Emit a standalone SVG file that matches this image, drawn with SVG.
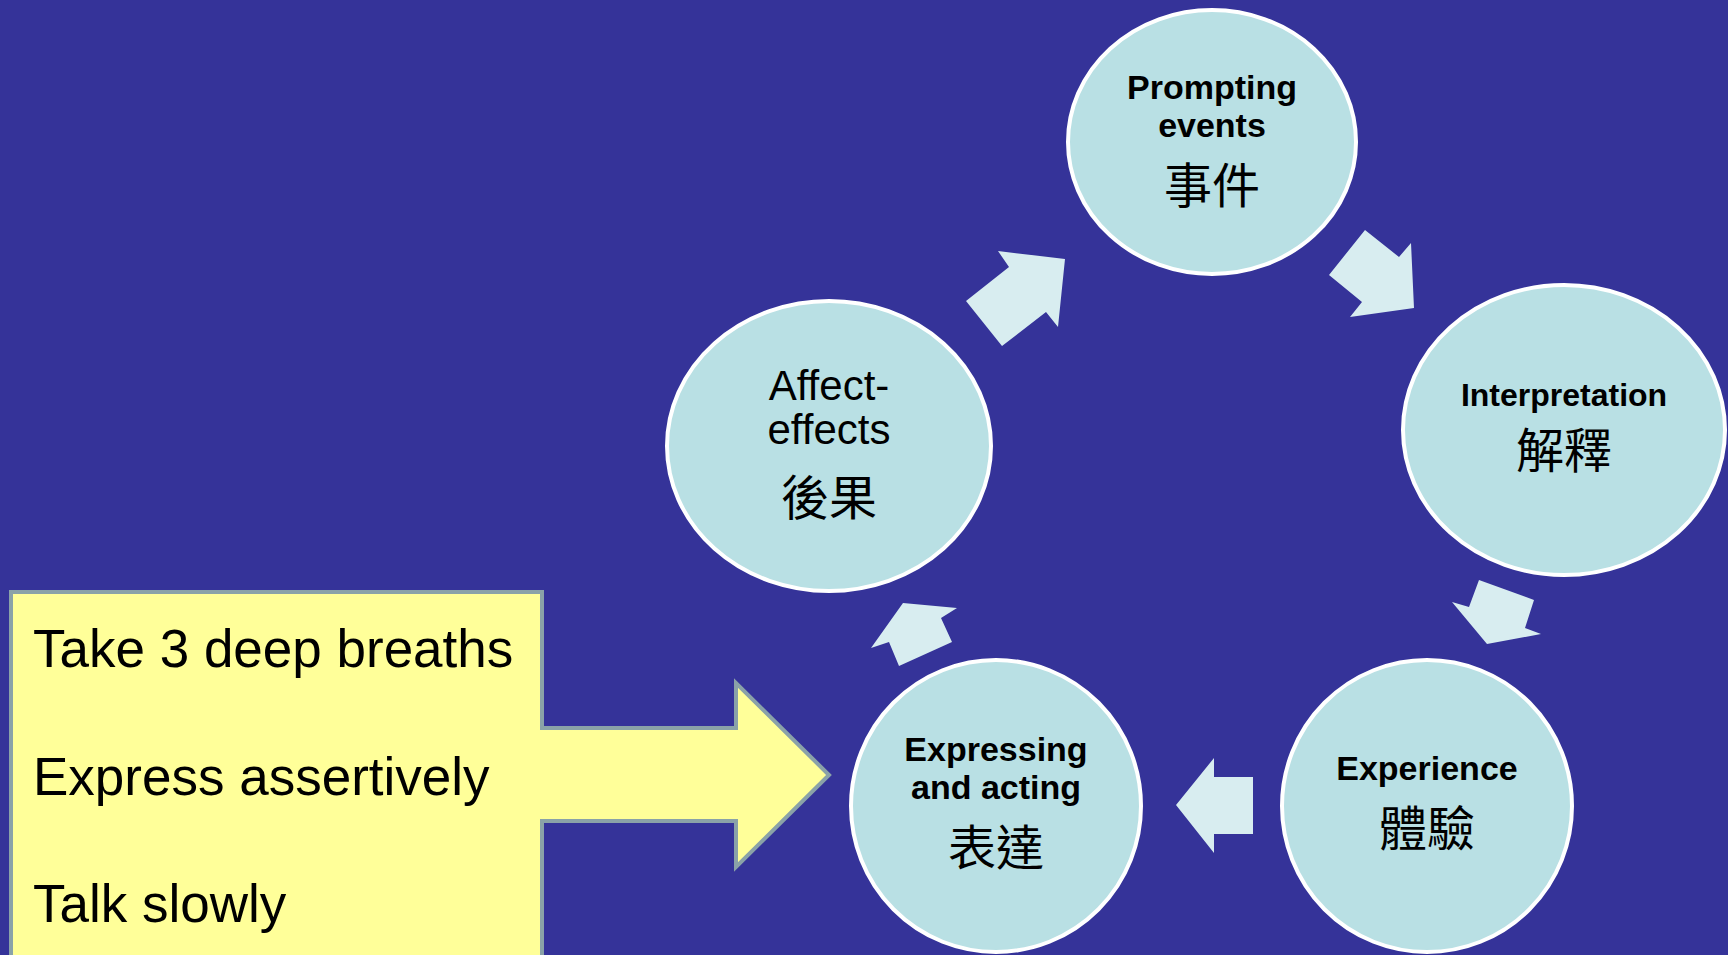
<svg xmlns="http://www.w3.org/2000/svg" width="1728" height="955" viewBox="0 0 1728 955">
<style>
.node ellipse{fill:#B9E0E4;stroke:#FFFFFF;stroke-width:4}
.b{font-family:"Liberation Sans",Arial,sans-serif;font-weight:bold;font-size:34px;fill:#000;text-anchor:middle}
.r{font-family:"Liberation Sans",Arial,sans-serif;font-size:42px;fill:#000;text-anchor:middle}
.c{font-family:"Liberation Sans","Noto Sans CJK TC",sans-serif;font-size:48px;fill:#000;text-anchor:middle}
.conn polygon{fill:#D8EDF0}
.t{font-family:"Liberation Sans",Arial,sans-serif;font-size:53px;fill:#000}
</style>
<rect x="0" y="0" width="1728" height="955" fill="#353399"/>
<g id="connectors" class="conn">
<polygon points="1002,346 966,301 1009,267 998,251 1065,259 1058,327 1046,312"/>
<polygon points="1365,230 1329,275 1362,302 1350,317 1414,308 1411,243 1399,257"/>
<polygon points="1479,580 1534,600 1525,628 1541,634 1487,644 1452,602 1469,607"/>
<polygon points="1253,777 1214,777 1214,758 1176,805 1214,853 1214,834 1253,834"/>
<polygon points="903,603 957,608 941,618 952,642 899,666 889,642 871,648"/>
</g>
<g id="prompting" class="node">
<ellipse cx="1212" cy="142" rx="144" ry="132"/>
<text class="b" x="1212" y="99">Prompting</text>
<text class="b" x="1212" y="137">events</text>
<text class="c" x="1212" y="203">事件</text>
</g>
<g id="interpretation" class="node">
<ellipse cx="1564" cy="430" rx="161" ry="145"/>
<text class="b" x="1564" y="406" style="font-size:32px">Interpretation</text>
<text class="c" x="1564" y="468">解釋</text>
</g>
<g id="experience" class="node">
<ellipse cx="1427" cy="806" rx="145" ry="146"/>
<text class="b" x="1427" y="780">Experience</text>
<text class="c" x="1427" y="846">體驗</text>
</g>
<g id="expressing" class="node">
<ellipse cx="996" cy="806" rx="145" ry="146"/>
<text class="b" x="996" y="761">Expressing</text>
<text class="b" x="996" y="799">and acting</text>
<text class="c" x="996" y="865">表達</text>
</g>
<g id="affect" class="node">
<ellipse cx="829" cy="446" rx="162" ry="145"/>
<text class="r" x="829" y="400">Affect-</text>
<text class="r" x="829" y="444">effects</text>
<text class="c" x="829" y="515">後果</text>
</g>
<g id="callout">
<path d="M11,592 H542 V728 H736 V683 L829,775 L736,867 V821 H542 V960 H11 Z" fill="#FFFF99" stroke="#8AA2A8" stroke-width="4" stroke-linejoin="miter"/>
<text class="t" x="33" y="667">Take 3 deep breaths</text>
<text class="t" x="33" y="795">Express assertively</text>
<text class="t" x="33" y="922">Talk slowly</text>
</g>
</svg>
